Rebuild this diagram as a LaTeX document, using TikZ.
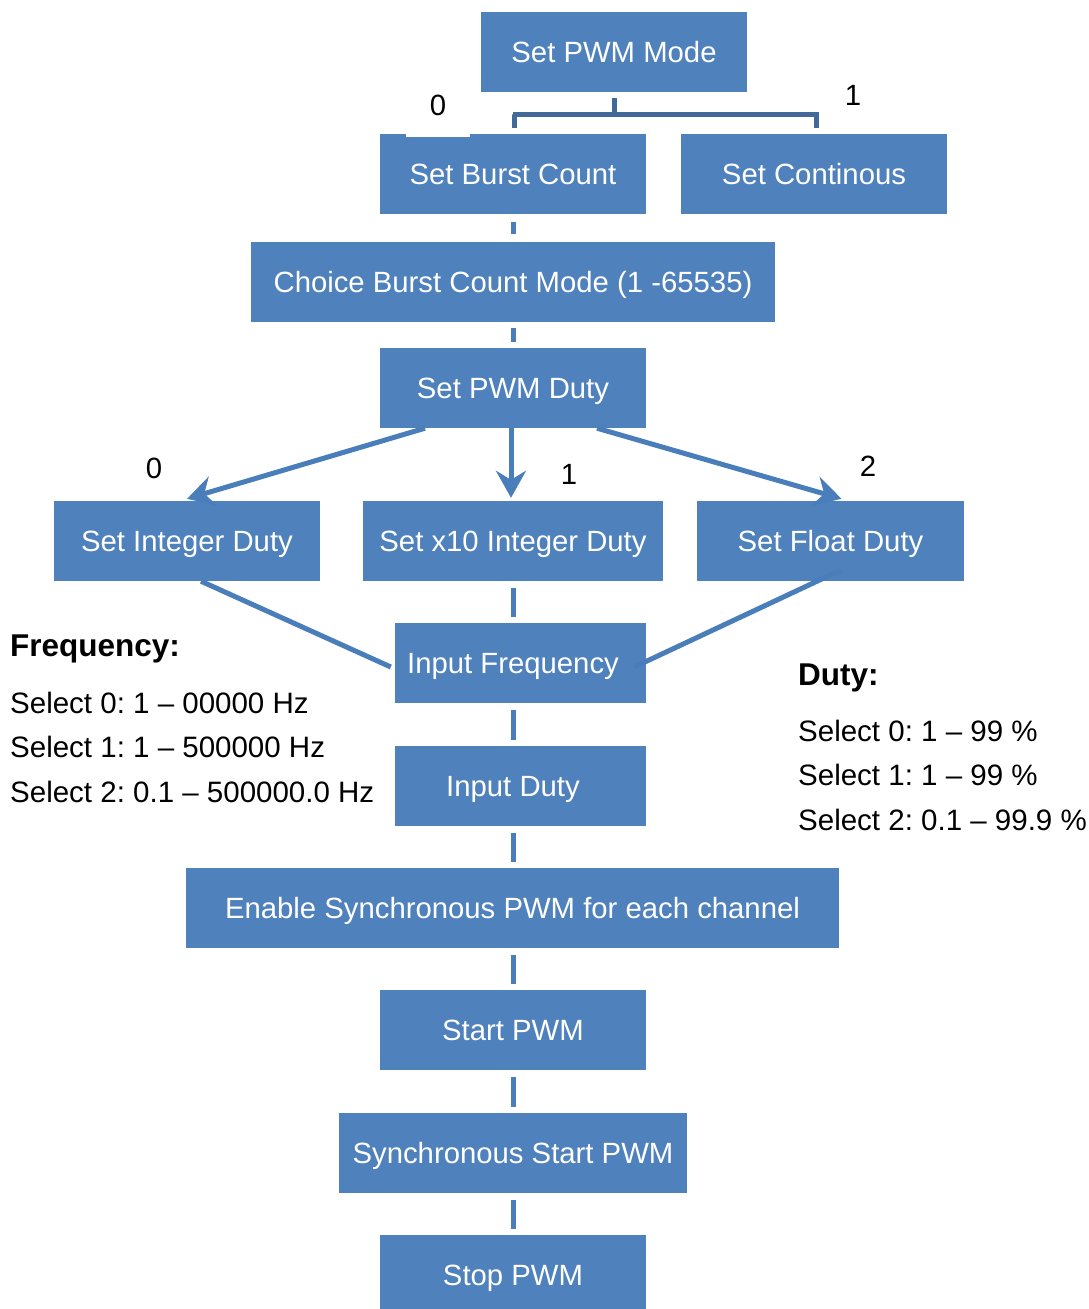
\documentclass[tikz,border=0pt]{standalone}
\usepackage{fontspec}
\setmainfont{Liberation Sans}
\frenchspacing
\usetikzlibrary{arrows.meta}
\definecolor{boxblue}{HTML}{4F81BD}
\definecolor{connblue}{HTML}{4A7EBB}
\definecolor{brackblue}{HTML}{41699A}
\begin{document}
\begin{tikzpicture}[x=1pt,y=-1pt,
  box/.style={fill=boxblue,text=white,inner sep=0pt,minimum height=80pt,text height=21pt,text depth=0pt,font=\fontsize{29.3}{32}\selectfont},
  conn/.style={draw=connblue,line width=5pt,shorten <=7pt,shorten >=6pt},
  arr/.style={draw=connblue,line width=5pt,-{Stealth[length=27pt,width=30pt,inset=9pt]}},
  slant/.style={draw=connblue,line width=5pt},
  brack/.style={draw=brackblue,line width=5pt},
  lbl/.style={inner sep=0pt,font=\fontsize{29.3}{32}\selectfont},
  side/.style={inner sep=0pt,anchor=base west,font=\fontsize{29.5}{32}\selectfont},
  sidehead/.style={side,font=\fontsize{31.5}{34}\selectfont\bfseries}]
\useasboundingbox (0,0) rectangle (1088,1309);
\fill[white] (0,0) rectangle (1088,1309);
% boxes
\node[box,minimum width=266pt] (mode) at (614,52) {Set PWM Mode};
\node[box,minimum width=266pt] (burst) at (513,174) {Set Burst Count};
\node[box,minimum width=266pt] (cont) at (814,174) {Set Continous};
\node[box,minimum width=524pt] (choice) at (513,282) {Choice Burst Count Mode (1 -65535)};
\node[box,minimum width=266pt] (duty) at (513,388) {Set PWM Duty};
\node[box,minimum width=266pt] (intd) at (187,541) {Set Integer Duty};
\node[box,minimum width=300pt] (x10d) at (513,541) {Set x10 Integer Duty};
\node[box,minimum width=267pt] (flod) at (830.5,541) {Set Float Duty};
\node[box,minimum width=251pt] (infreq) at (520.5,663) {\hspace*{-15pt}Input Frequency};
\node[box,minimum width=251pt] (induty) at (520.5,786) {\hspace*{-15pt}Input Duty};
\node[box,minimum width=653pt] (enable) at (512.5,908) {Enable Synchronous PWM for each channel};
\node[box,minimum width=266pt] (start) at (513,1030) {Start PWM};
\node[box,minimum width=348pt] (sync) at (513,1153) {Synchronous Start PWM};
\node[box,minimum width=266pt] (stop) at (513,1275) {Stop PWM};
% top labels
\node[lbl,fill=white,minimum width=64pt,text height=21pt,text depth=21pt,anchor=south] (l0top) at (438,137) {0};
\node[lbl] (l1top) at (853,95) {1};
% bracket
\draw[brack] ([yshift=-6pt]mode.south) -- ([yshift=-23pt]mode.south);
\draw[brack] ([xshift=1pt,yshift=6pt]burst.north) |- ([yshift=19pt]burst.north) -| ([xshift=2pt,yshift=6pt]cont.north);
% vertical connectors
\draw[conn,shorten <=8pt,shorten >=8pt] (burst.south) -- (choice.north);
\draw[conn,shorten <=6pt,shorten >=6pt] (choice.south) -- (duty.north);
\draw[conn] (x10d.south) -- (x10d.south |- infreq.north);
\draw[conn] (infreq.south -| x10d.south) -- (induty.north -| x10d.south);
\draw[conn] (induty.south -| x10d.south) -- (enable.north -| x10d.south);
\draw[conn] (enable.south -| x10d.south) -- (start.north);
\draw[conn] (start.south) -- (sync.north);
\draw[conn] (sync.south) -- (stop.north);
% arrows
\draw[arr] ([xshift=-88pt]duty.south) -- ([yshift=2pt]intd.north);
\draw[arr] ([xshift=-2pt]duty.south) -- ([xshift=-2pt,yshift=3pt]x10d.north);
\draw[arr] ([xshift=84pt]duty.south) -- ([xshift=11pt,yshift=2pt]flod.north);
\node[lbl] (l0) at (154,468) {0};
\node[lbl] (l1) at (569,474) {1};
\node[lbl] (l2) at (868,466) {2};
% slanted lines to Input Frequency
\draw[slant] ([xshift=14pt]intd.south) -- ([xshift=-4pt,yshift=-4pt]infreq.west);
\draw[slant] ([xshift=10pt,yshift=11pt]flod.south) -- ([xshift=-12pt,yshift=-4pt]infreq.east);
% side texts
\node[sidehead] (fh) at (10,656) {Frequency:};
\node[side] (f0) at (10,713) {Select 0: 1 – 00000 Hz};
\node[side] (f1) at (10,757) {Select 1: 1 – 500000 Hz};
\node[side] (f2) at (10,802) {Select 2: 0.1 – 500000.0 Hz};
\node[sidehead] (dh) at (798,685) {Duty:};
\node[side] (d0) at (798,741) {Select 0: 1 – 99 \%};
\node[side] (d1) at (798,785) {Select 1: 1 – 99 \%};
\node[side] (d2) at (798,830) {Select 2: 0.1 – 99.9 \%};
\end{tikzpicture}
\end{document}
